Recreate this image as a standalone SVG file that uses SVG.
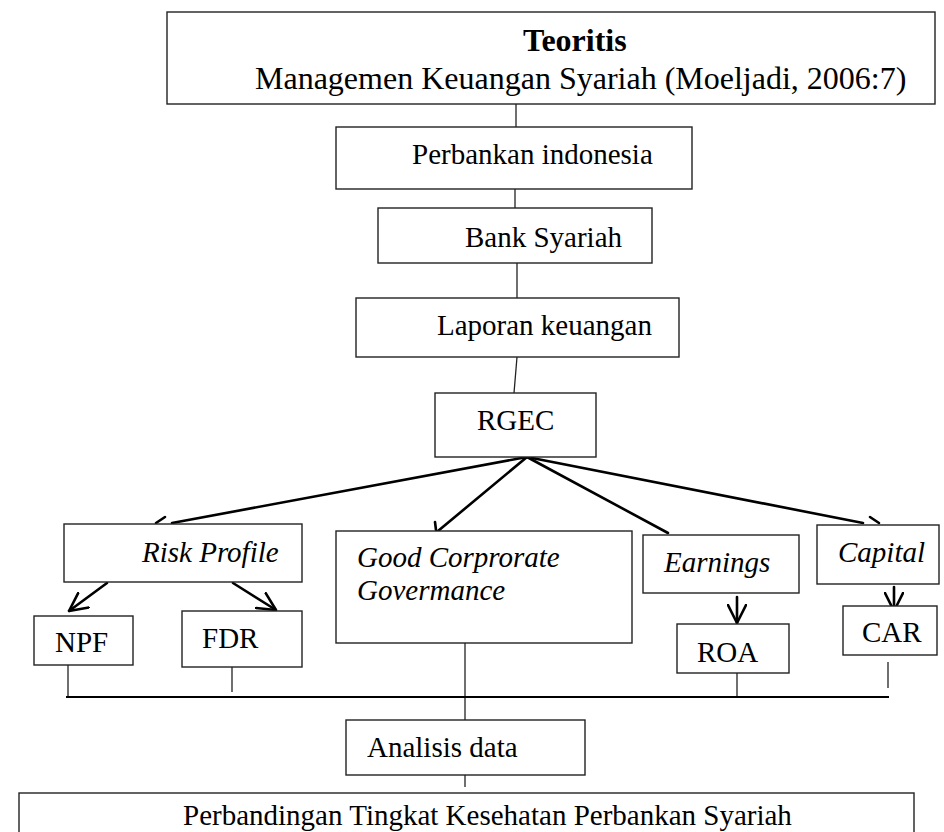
<svg xmlns="http://www.w3.org/2000/svg" width="944" height="832" viewBox="0 0 944 832">
<style>
.box{fill:#fff;stroke:#222;stroke-width:1.4}
.t{font-family:"Liberation Serif","Times New Roman",serif;font-size:29px;fill:#000}
.big{font-size:32px}
.b{font-weight:bold}
.i{font-style:italic}
.thin{stroke:#222;stroke-width:1.3;fill:none}
.thick{stroke:#000;stroke-width:2.6;fill:none;stroke-linecap:round}
</style>
<defs>
<marker id="vhead" viewBox="0 0 20 20" refX="19" refY="10" markerWidth="20" markerHeight="20" markerUnits="userSpaceOnUse" orient="auto">
<path d="M1,1 L19,10 L1,19" fill="none" stroke="#000" stroke-width="2.6" stroke-linecap="round" stroke-linejoin="round"/>
</marker>
</defs>
<rect width="944" height="832" fill="#fff"/>
<g id="connectors">
<line class="thin" x1="516" y1="104" x2="516" y2="127"/>
<line class="thin" x1="515" y1="189" x2="515" y2="208"/>
<line class="thin" x1="517" y1="263" x2="517" y2="298"/>
<line class="thin" x1="517" y1="357" x2="514" y2="393"/>
<line class="thick" x1="527" y1="457" x2="172" y2="523"/>
<line class="thick" x1="527" y1="457" x2="438" y2="531"/>
<line class="thick" x1="527" y1="457" x2="668" y2="533"/>
<line class="thick" x1="527" y1="457" x2="863" y2="523"/>
<line class="thick" x1="156" y1="523" x2="165" y2="517"/>
<line class="thick" x1="435" y1="522" x2="436" y2="530"/>
<line class="thick" x1="870" y1="517" x2="879" y2="523"/>
<line class="thick" x1="107" y1="583" x2="69" y2="611" marker-end="url(#vhead)"/>
<line class="thick" x1="233" y1="583" x2="276" y2="610" marker-end="url(#vhead)"/>
<line class="thick" x1="737" y1="597" x2="737" y2="623" marker-end="url(#vhead)"/>
<line class="thick" x1="894" y1="587" x2="894" y2="611" marker-end="url(#vhead)"/>
<line class="thin" x1="68" y1="665" x2="68" y2="697"/>
<line class="thin" x1="232" y1="667" x2="232" y2="692"/>
<line class="thin" x1="465" y1="643" x2="465" y2="720"/>
<line class="thin" x1="737" y1="673" x2="737" y2="697"/>
<line class="thin" x1="888" y1="662" x2="888" y2="688"/>
<line x1="66" y1="697" x2="889" y2="697" stroke="#000" stroke-width="1.8"/>
<line class="thin" x1="465" y1="775" x2="465" y2="787"/>
</g>
<g id="teoritis">
<rect class="box" x="167" y="12" width="768" height="92"/>
<text class="t big b" x="523" y="51">Teoritis</text>
<text class="t big" x="255" y="89">Managemen Keuangan Syariah (Moeljadi, 2006:7)</text>
</g>
<g id="perbankan">
<rect class="box" x="336" y="127" width="356" height="62"/>
<text class="t" x="412" y="164">Perbankan indonesia</text>
</g>
<g id="bank-syariah">
<rect class="box" x="378" y="208" width="274" height="55"/>
<text class="t" x="465" y="247">Bank Syariah</text>
</g>
<g id="laporan">
<rect class="box" x="356" y="298" width="323" height="59"/>
<text class="t" x="437" y="335">Laporan keuangan</text>
</g>
<g id="rgec">
<rect class="box" x="435" y="393" width="161" height="64"/>
<text class="t" x="477" y="430">RGEC</text>
</g>
<g id="risk-profile">
<rect class="box" x="64" y="524" width="238" height="58"/>
<text class="t i" x="142" y="562">Risk Profile</text>
</g>
<g id="gcg">
<rect class="box" x="336" y="531" width="296" height="112"/>
<text class="t i" x="357" y="567">Good Corprorate</text>
<text class="t i" x="357" y="600">Govermance</text>
</g>
<g id="earnings">
<rect class="box" x="643" y="535" width="156" height="58"/>
<text class="t i" x="664" y="572">Earnings</text>
</g>
<g id="capital">
<rect class="box" x="817" y="525" width="122" height="59"/>
<text class="t i" x="838" y="562">Capital</text>
</g>
<g id="npf">
<rect class="box" x="34" y="616" width="99" height="49"/>
<text class="t" x="55" y="652">NPF</text>
</g>
<g id="fdr">
<rect class="box" x="182" y="611" width="120" height="56"/>
<text class="t" x="202" y="648">FDR</text>
</g>
<g id="roa">
<rect class="box" x="677" y="624" width="112" height="49"/>
<text class="t" x="697" y="662">ROA</text>
</g>
<g id="car">
<rect class="box" x="843" y="606" width="94" height="49"/>
<text class="t" x="862" y="642">CAR</text>
</g>
<g id="analisis">
<rect class="box" x="346" y="720" width="239" height="55"/>
<text class="t" x="367" y="757">Analisis data</text>
</g>
<g id="perbandingan">
<rect class="box" x="19" y="793" width="895" height="60"/>
<text class="t" x="183" y="825">Perbandingan Tingkat Kesehatan Perbankan Syariah</text>
</g>
</svg>
